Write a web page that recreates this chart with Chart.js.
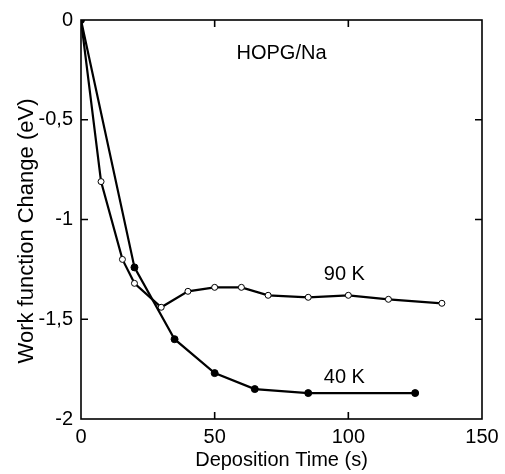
<!DOCTYPE html>
<html>
<head>
<meta charset="utf-8">
<script src="https://cdn.jsdelivr.net/npm/chart.js@4.4.1/dist/chart.umd.min.js"></script>
<style>
  html, body { margin: 0; padding: 0; background: #fff; }
  #wrap { width: 505px; height: 474px; }
</style>
</head>
<body>
<div id="wrap"><canvas id="c" width="505" height="474"></canvas></div>
<script>
// Work function change of HOPG during Na deposition, at two substrate temperatures
const time90 = [0, 7.5, 15.5, 20, 30, 40, 50, 60, 70, 85, 100, 115, 135];
const wf90   = [0, -0.81, -1.20, -1.32, -1.44, -1.36, -1.34, -1.34, -1.38, -1.39, -1.38, -1.40, -1.42];
const time40 = [0, 20, 35, 50, 65, 85, 125];
const wf40   = [0, -1.24, -1.60, -1.77, -1.85, -1.87, -1.87];
const xTicks = [0, 50, 100, 150];
const yTicks = [0, -0.5, -1, -1.5, -2];
const xTitle = 'Deposition Time (s)';
const yTitle = 'Work function Change (eV)';
const systemLabel = 'HOPG/Na';
const seriesNames = ['90 K', '40 K'];

const FONT = '"Liberation Sans", Arial, sans-serif';
const toPoints = (xs, ys) => xs.map((x, i) => ({ x: x, y: ys[i] }));

// Closed frame with inward tick marks on all four sides
const framePlugin = {
  id: 'frame',
  beforeDatasetsDraw(chart) {
    const { ctx, chartArea: a, scales: { x, y } } = chart;
    ctx.save();
    ctx.strokeStyle = '#000';
    ctx.lineWidth = 1.6;
    ctx.strokeRect(a.left, a.top, a.right - a.left, a.bottom - a.top);
    const len = 7;
    ctx.beginPath();
    xTicks.slice(1, -1).forEach(v => {
      const px = x.getPixelForValue(v);
      ctx.moveTo(px, a.bottom); ctx.lineTo(px, a.bottom - len);
      ctx.moveTo(px, a.top);    ctx.lineTo(px, a.top + len);
    });
    yTicks.slice(1, -1).forEach(v => {
      const py = y.getPixelForValue(v);
      ctx.moveTo(a.left, py);  ctx.lineTo(a.left + len, py);
      ctx.moveTo(a.right, py); ctx.lineTo(a.right - len, py);
    });
    ctx.stroke();
    ctx.restore();
  }
};

// In-plot labels and the vertical axis title
const textPlugin = {
  id: 'texts',
  afterDatasetsDraw(chart) {
    const { ctx, scales: { x, y } } = chart;
    ctx.save();
    ctx.fillStyle = '#000';
    ctx.textAlign = 'center';
    ctx.textBaseline = 'alphabetic';
    ctx.font = '20px ' + FONT;
    ctx.fillText(systemLabel, x.getPixelForValue(75), y.getPixelForValue(-0.195));
    ctx.fillText(seriesNames[0], x.getPixelForValue(98.5), y.getPixelForValue(-1.305));
    ctx.fillText(seriesNames[1], x.getPixelForValue(98.5), y.getPixelForValue(-1.82));
    // y-axis title, rotated
    ctx.translate(27, 231);
    ctx.rotate(-Math.PI / 2);
    ctx.textBaseline = 'middle';
    ctx.font = '22px ' + FONT;
    ctx.fillText(yTitle, 0, 0);
    ctx.restore();
  }
};

new Chart(document.getElementById('c'), {
  type: 'scatter',
  data: {
    datasets: [
      {
        label: seriesNames[1],
        data: toPoints(time40, wf40),
        showLine: true,
        borderColor: '#000',
        borderWidth: 2.2,
        pointRadius: 3.5,
        pointBackgroundColor: '#000',
        pointBorderColor: '#000',
        pointBorderWidth: 1
      },
      {
        label: seriesNames[0],
        data: toPoints(time90, wf90),
        showLine: true,
        borderColor: '#000',
        borderWidth: 2.2,
        pointRadius: 3,
        pointBackgroundColor: '#fff',
        pointBorderColor: '#000',
        pointBorderWidth: 1
      }
    ]
  },
  options: {
    responsive: false,
    animation: false,
    devicePixelRatio: 1,
    layout: { padding: { top: 16, right: 23, left: 0, bottom: 0 } },
    plugins: { legend: { display: false }, tooltip: { enabled: false } },
    scales: {
      x: {
        type: 'linear',
        min: 0, max: 150,
        afterBuildTicks: s => { s.ticks = xTicks.map(v => ({ value: v })); },
        afterFit: s => { s.height = 55; },
        grid: { display: false, drawTicks: false },
        border: { display: false },
        ticks: { color: '#000', font: { family: FONT, size: 20 }, padding: 6, maxRotation: 0 },
        title: { display: true, text: xTitle, color: '#000', font: { family: FONT, size: 20 }, padding: { top: 0, bottom: 2 } }
      },
      y: {
        type: 'linear',
        min: -2, max: 0,
        afterBuildTicks: s => { s.ticks = yTicks.map(v => ({ value: v })); },
        afterFit: s => { s.width = 81; },
        grid: { display: false, drawTicks: false },
        border: { display: false },
        ticks: {
          color: '#000', font: { family: FONT, size: 20 }, padding: 8,
          callback: v => String(v).replace('.', ',')
        }
      }
    }
  },
  plugins: [framePlugin, textPlugin]
});
</script>
</body>
</html>
